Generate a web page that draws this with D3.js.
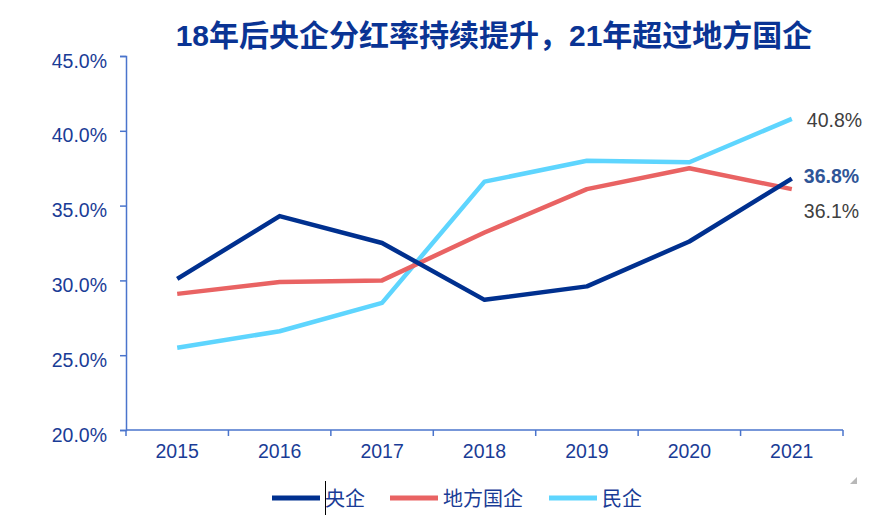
<!DOCTYPE html>
<html>
<head>
<meta charset="utf-8">
<script src="https://cdn.jsdelivr.net/npm/d3@7"></script>
<style>
  body { margin: 0; background: #fff; }
  svg { font-family: Arial, "Liberation Sans", "Noto Sans CJK SC", sans-serif; }
</style>
</head>
<body>
<div id="chart"></div>
<script>
var years = ["2015", "2016", "2017", "2018", "2019", "2020", "2021"];
var seriesNames = ["央企", "地方国企", "民企"];
var yangqi = [30.1, 34.3, 32.5, 28.7, 29.6, 32.6, 36.8];
var difang = [29.1, 29.9, 30.0, 33.2, 36.1, 37.5, 36.1];
var minqi = [25.5, 26.6, 28.5, 36.6, 38.0, 37.9, 40.8];
var yTicks = [20, 25, 30, 35, 40, 45];
var colors = ["#00308F", "#E96363", "#5ED5FE"];

var width = 886, height = 524;
var margin = {top: 56, right: 43, bottom: 94, left: 126};

var svg = d3.select("#chart").append("svg")
    .attr("width", width)
    .attr("height", height);

var x = d3.scaleBand()
    .domain(years)
    .range([margin.left, width - margin.right]);

var y = d3.scaleLinear()
    .domain([20, 45])
    .range([height - margin.bottom, margin.top]);

// title
svg.append("text")
    .attr("x", 494)
    .attr("y", 46)
    .attr("text-anchor", "middle")
    .style("font-size", "30px")
    .style("font-weight", "bold")
    .style("fill", "#0A3494")
    .text("18年后央企分红率持续提升，21年超过地方国企");

// y axis
var yAxis = svg.append("g")
    .attr("transform", "translate(" + margin.left + ",0)")
    .call(d3.axisLeft(y).tickValues(yTicks).tickSize(6).tickFormat(function(d){ return d.toFixed(1) + "%"; }));
yAxis.select(".domain").attr("stroke", "#4A74CC").attr("stroke-width", 1.5);
yAxis.selectAll(".tick line").attr("stroke", "#4A74CC").attr("stroke-width", 1.5);
yAxis.selectAll(".tick text")
    .attr("x", -19)
    .attr("dy", "11px")
    .style("font-size", "19.5px")
    .style("fill", "#1A3C96");

// x axis (ticks between categories)
var xAxisG = svg.append("g")
    .attr("transform", "translate(0," + y(20) + ")");
xAxisG.append("line")
    .attr("x1", x.range()[0]).attr("x2", x.range()[1])
    .attr("stroke", "#4A74CC").attr("stroke-width", 1.5);
var bounds = years.map(function(d){ return x(d); }).concat([x.range()[1]]);
xAxisG.selectAll("line.tk").data(bounds).enter().append("line")
    .attr("class", "tk")
    .attr("x1", function(d){ return d; }).attr("x2", function(d){ return d; })
    .attr("y1", 0).attr("y2", 6)
    .attr("stroke", "#4A74CC").attr("stroke-width", 1.5);
xAxisG.selectAll("text").data(years).enter().append("text")
    .attr("x", function(d){ return x(d) + x.bandwidth() / 2; })
    .attr("y", 28)
    .attr("text-anchor", "middle")
    .style("font-size", "19.5px")
    .style("fill", "#1A3C96")
    .text(function(d){ return d; });

// lines
var allSeries = [yangqi, difang, minqi];
var line = d3.line()
    .x(function(d, i){ return x(years[i]) + x.bandwidth() / 2; })
    .y(function(d){ return y(d); });

[2, 1, 0].forEach(function(k){
    svg.append("path")
        .datum(allSeries[k])
        .attr("fill", "none")
        .attr("stroke", colors[k])
        .attr("stroke-width", 4.5)
        .attr("stroke-linejoin", "round")
        .attr("d", line);
});

// end labels
var lastX = x("2021") + x.bandwidth() / 2;
svg.append("text")
    .attr("x", lastX + 15).attr("y", y(minqi[6]) + 8)
    .style("font-size", "19.5px").style("fill", "#404040")
    .text(minqi[6].toFixed(1) + "%");
svg.append("text")
    .attr("x", lastX + 12).attr("y", y(yangqi[6]) + 4)
    .style("font-size", "19.5px").style("font-weight", "bold").style("fill", "#2F5597")
    .text(yangqi[6].toFixed(1) + "%");
svg.append("text")
    .attr("x", lastX + 12).attr("y", y(difang[6]) + 29)
    .style("font-size", "19.5px").style("fill", "#404040")
    .text(difang[6].toFixed(1) + "%");

// legend
var legendX = [272, 390, 549];
var legend = svg.selectAll("g.legend").data(seriesNames).enter().append("g")
    .attr("class", "legend")
    .attr("transform", function(d, i){ return "translate(" + legendX[i] + ",498)"; });
legend.append("line")
    .attr("x1", 0).attr("x2", 48)
    .attr("stroke", function(d, i){ return colors[i]; })
    .attr("stroke-width", 5);
legend.append("text")
    .attr("x", 53).attr("y", 8)
    .style("font-size", "20px")
    .style("fill", "#1A3C96")
    .text(function(d){ return d; });

// little cursor mark and resize corner seen in the original
svg.append("line")
    .attr("x1", 325.5).attr("x2", 325.5).attr("y1", 481).attr("y2", 515)
    .attr("stroke", "#000").attr("stroke-width", 1);
svg.append("path")
    .attr("d", "M857,477 L857,484 L850,484 Z")
    .attr("fill", "#B8B8B8");
</script>
</body>
</html>
